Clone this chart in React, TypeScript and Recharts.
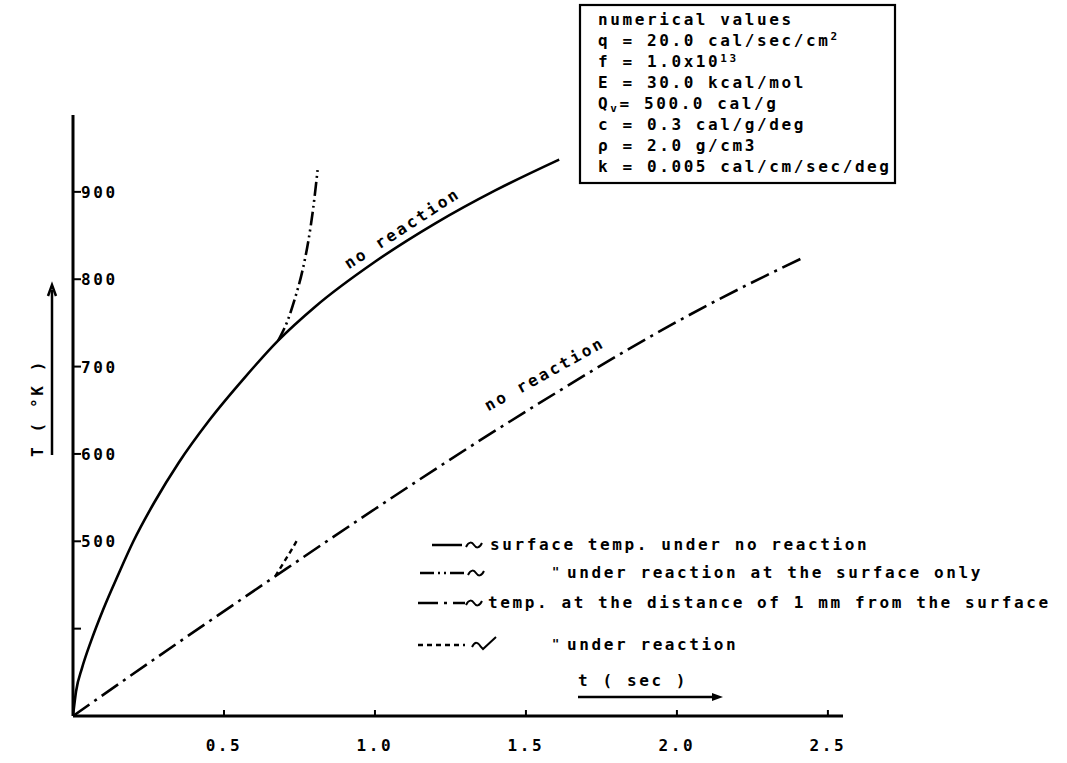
import React from 'react';
import { LineChart, Line, XAxis, YAxis, ReferenceDot } from 'recharts';

const W = 1067;
const H = 763;
const FONT = '"DejaVu Sans Mono", "Liberation Mono", monospace';

// Surface temperature without reaction: time (sec) / temperature (°K)
const surfaceTime = [0, 0.01, 0.03, 0.06, 0.1, 0.15, 0.2, 0.27, 0.35, 0.45, 0.57, 0.68, 0.8, 1.0, 1.2, 1.4, 1.61];
const surfaceTemp = [300, 328, 355, 386, 422, 462, 500, 545, 590, 638, 688, 730, 768, 820, 864, 902, 937];

// Surface temperature with reaction at the surface only
const surfaceReactTime = [0.68, 0.71, 0.735, 0.76, 0.78, 0.795, 0.81];
const surfaceReactTemp = [730, 752, 778, 810, 845, 880, 925];

// Temperature 1 mm below the surface
const depthTime = [0, 0.34, 0.67, 1.0, 1.35, 1.6, 1.85, 2.1, 2.3, 2.42];
const depthTemp = [300, 382, 460, 537, 616, 670, 722, 770, 805, 825];

// Temperature 1 mm below the surface with reaction
const depthReactTime = [0.67, 0.7, 0.725, 0.745];
const depthReactTemp = [460, 477, 491, 503];

const xTicks = [0.5, 1.0, 1.5, 2.0, 2.5];
const xTickLabels = ['0.5', '1.0', '1.5', '2.0', '2.5'];
const yTicks = [400, 500, 600, 700, 800, 900];
const yTickLabels = ['', '500', '600', '700', '800', '900'];

const legendLabels = [
  'surface temp. under no reaction',
  'under reaction at the surface only',
  'temp. at the distance of 1 mm from the surface',
  'under reaction',
];

const toPoints = (ts: number[], vs: number[]) => ts.map((t, i) => ({ t, T: vs[i] }));

const surfaceData = toPoints(surfaceTime, surfaceTemp);
const surfaceReactData = toPoints(surfaceReactTime, surfaceReactTemp);
const depthData = toPoints(depthTime, depthTemp);
const depthReactData = toPoints(depthReactTime, depthReactTemp);

const DASH_SURFACE_REACT = '14 4 2 4 2 4';
const DASH_DEPTH = '20 6 3 6';
const DASH_DEPTH_REACT = '5 4';

const textStyle: React.CSSProperties = {
  fontFamily: FONT,
  fontWeight: 'bold',
  fontSize: 16,
  letterSpacing: '2.6px',
  fill: '#000',
};

const renderXTick = (props: any) => {
  const { x, y, payload } = props;
  const i = xTicks.indexOf(payload.value);
  return (
    <g>
      <line x1={x} x2={x} y1={y} y2={y - 6} stroke="#000" strokeWidth={2} />
      <text x={x} y={y + 35} textAnchor="middle" style={textStyle}>
        {xTickLabels[i]}
      </text>
    </g>
  );
};

const renderYTick = (props: any) => {
  const { x, y, payload } = props;
  const i = yTicks.indexOf(payload.value);
  return (
    <g>
      <line x1={x} x2={x + 8} y1={y} y2={y} stroke="#000" strokeWidth={2} />
      <text x={x + 8} y={y + 6} textAnchor="start" style={textStyle}>
        {yTickLabels[i]}
      </text>
    </g>
  );
};

const rotatedLabel = (angle: number) => (p: any) => (
  <text
    x={p.cx}
    y={p.cy}
    textAnchor="middle"
    transform={`rotate(${angle} ${p.cx} ${p.cy})`}
    style={textStyle}
  >
    no reaction
  </text>
);

const Tilde = ({ x, y }: { x: number; y: number }) => (
  <path
    d={`M ${x} ${y + 2} C ${x + 3} ${y - 4} ${x + 6} ${y - 3} ${x + 8} ${y} S ${x + 13} ${y + 4} ${x + 16} ${y - 2}`}
    fill="none"
    stroke="#000"
    strokeWidth={2}
  />
);

const TildeCheck = ({ x, y }: { x: number; y: number }) => (
  <path
    d={`M ${x} ${y + 2} C ${x + 3} ${y - 4} ${x + 6} ${y - 3} ${x + 9} ${y + 2} L ${x + 11} ${y + 4} L ${x + 24} ${y - 8}`}
    fill="none"
    stroke="#000"
    strokeWidth={2}
  />
);

function Legend() {
  const rows = [
    { y: 550, x1: 432, dash: undefined as string | undefined, ditto: false, tilde: 466, textX: 490 },
    { y: 578, x1: 420, dash: DASH_SURFACE_REACT, ditto: true, tilde: 468, textX: 567 },
    { y: 608, x1: 418, dash: DASH_DEPTH, ditto: false, tilde: 466, textX: 488 },
    { y: 650, x1: 418, dash: DASH_DEPTH_REACT, ditto: true, tilde: 472, textX: 567 },
  ];
  return (
    <g>
      {rows.map((r, i) => (
        <g key={i}>
          <line x1={r.x1} x2={i === 0 ? 462 : 465} y1={r.y - 5} y2={r.y - 5} stroke="#000" strokeWidth={2.5} strokeDasharray={r.dash} />
          {i === 3 ? <TildeCheck x={r.tilde} y={r.y - 5} /> : <Tilde x={r.tilde} y={r.y - 5} />}
          {r.ditto && (
            <text x={552} y={r.y - 2} style={{ ...textStyle, fontSize: 12 }}>
              "
            </text>
          )}
          <text x={r.textX} y={r.y} style={textStyle}>
            {legendLabels[i]}
          </text>
        </g>
      ))}
    </g>
  );
}

function ParamBox() {
  const left = 580;
  const top = 5;
  const right = 895;
  const bottom = 183;
  const tx = 598;
  const rowY = [25, 46, 67, 88, 109, 130, 151, 172];
  const sup: React.CSSProperties = { fontSize: 11 };
  return (
    <g>
      <rect x={left} y={top} width={right - left} height={bottom - top} fill="#fff" stroke="#000" strokeWidth={2.2} />
      <text x={tx} y={rowY[0]} style={textStyle}>numerical values</text>
      <text x={tx} y={rowY[1]} style={textStyle}>
        q = 20.0 cal/sec/cm<tspan dy={-6} style={sup}>2</tspan>
      </text>
      <text x={tx} y={rowY[2]} style={textStyle}>
        f = 1.0x10<tspan dy={-5} style={sup}>13</tspan>
      </text>
      <text x={tx} y={rowY[3]} style={textStyle}>E = 30.0 kcal/mol</text>
      <text x={tx} y={rowY[4]} style={textStyle}>
        Q<tspan dy={3} style={sup}>v</tspan>
        <tspan dy={-3}>= 500.0 cal/g</tspan>
      </text>
      <text x={tx} y={rowY[5]} style={textStyle}>c = 0.3 cal/g/deg</text>
      <text x={tx} y={rowY[6]} style={textStyle}>ρ = 2.0 g/cm3</text>
      <text x={tx} y={rowY[7]} style={textStyle}>k = 0.005 cal/cm/sec/deg</text>
    </g>
  );
}

function AxisTitles() {
  return (
    <g>
      <text x={37} y={408} textAnchor="middle" transform="rotate(-90 37 408)" dominantBaseline="central" style={textStyle}>
        T ( °K )
      </text>
      <line x1={52} x2={52} y1={455} y2={290} stroke="#000" strokeWidth={2.5} />
      <path d="M 48 296 L 52 285 L 56 296" fill="none" stroke="#000" strokeWidth={2.5} />
      <text x={578} y={686} style={textStyle}>t ( sec )</text>
      <line x1={578} x2={716} y1={697} y2={697} stroke="#000" strokeWidth={2.5} />
      <path d="M 712 693 L 723 697 L 712 701 Z" fill="#000" />
    </g>
  );
}

export default function App() {
  return (
    <div style={{ position: 'absolute', left: 0, top: 0, width: W, height: H, background: '#fff' }}>
      <LineChart width={W} height={H} margin={{ top: 115, right: 224, bottom: 17, left: 13 }}>
        <XAxis
          dataKey="t"
          type="number"
          domain={[0, 2.55]}
          ticks={xTicks}
          interval={0}
          height={30}
          tickSize={0}
          tickMargin={0}
          tickLine={false}
          axisLine={{ stroke: '#000', strokeWidth: 3 }}
          tick={renderXTick}
          allowDataOverflow
        />
        <YAxis
          type="number"
          domain={[300, 988]}
          ticks={yTicks}
          interval={0}
          width={60}
          tickSize={0}
          tickMargin={0}
          tickLine={false}
          axisLine={{ stroke: '#000', strokeWidth: 3 }}
          tick={renderYTick}
          allowDataOverflow
        />
        <Line data={surfaceData} dataKey="T" type="monotone" stroke="#000" strokeWidth={2.6} dot={false} isAnimationActive={false} />
        <Line data={surfaceReactData} dataKey="T" type="monotone" stroke="#000" strokeWidth={2.6} strokeDasharray={DASH_SURFACE_REACT} dot={false} isAnimationActive={false} />
        <Line data={depthData} dataKey="T" type="monotone" stroke="#000" strokeWidth={2.6} strokeDasharray={DASH_DEPTH} dot={false} isAnimationActive={false} />
        <Line data={depthReactData} dataKey="T" type="monotone" stroke="#000" strokeWidth={2.4} strokeDasharray={DASH_DEPTH_REACT} dot={false} isAnimationActive={false} />
        <ReferenceDot x={1.1} y={853} r={1} ifOverflow="visible" shape={rotatedLabel(-33)} />
        <ReferenceDot x={1.57} y={686} r={1} ifOverflow="visible" shape={rotatedLabel(-29)} />
      </LineChart>
      <svg width={W} height={H} style={{ position: 'absolute', left: 0, top: 0, pointerEvents: 'none' }}>
        <ParamBox />
        <Legend />
        <AxisTitles />
      </svg>
    </div>
  );
}
